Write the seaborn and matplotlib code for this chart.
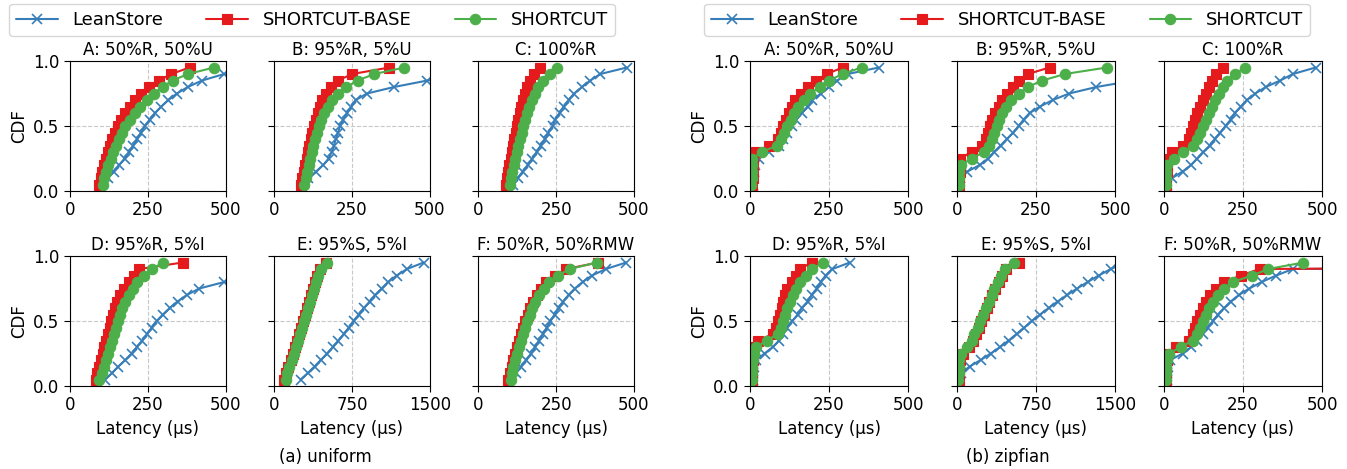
import matplotlib
matplotlib.use("Agg")
import matplotlib.pyplot as plt
import seaborn as sns
import numpy as np
import pandas as pd

nan = np.nan

# CDF levels shared by all series
cdf_levels = [0.05, 0.10, 0.15, 0.20, 0.25, 0.30, 0.35, 0.40, 0.45, 0.50,
              0.55, 0.60, 0.65, 0.70, 0.75, 0.80, 0.85, 0.90, 0.95]

systems = ["LeanStore", "SHORTCUT-BASE", "SHORTCUT"]
panel_titles = ["A: 50%R, 50%U", "B: 95%R, 5%U", "C: 100%R",
                "D: 95%R, 5%I", "E: 95%S, 5%I", "F: 50%R, 50%RMW"]
x_limits = [500, 500, 500, 500, 1500, 500]
x_ticks = [[0, 250, 500], [0, 250, 500], [0, 250, 500],
           [0, 250, 500], [0, 750, 1500], [0, 250, 500]]

# ---- uniform: latency (us) at each CDF level ----
uni_a_lean = [nan, 123, 140, 158, 175, 190, 203, 216, 228, 240, 256, 273, 293, 316, 343, 378, 424, 495, 600]
uni_a_base = [92, 99, 104, 109, 115, 121, 129, 136, 145, 153, 164, 177, 191, 207, 228, 254, 286, 325, 384]
uni_a_sc = [105, 110, 116, 123, 131, 138, 147, 156, 166, 177, 192, 207, 225, 247, 268, 297, 329, 379, 462]

uni_b_lean = [nan, 110, 135, 158, 175, 185, 192, 198, 205, 212, 222, 234, 248, 262, 298, 385, 492, 650, 800]
uni_b_base = [85, 90, 95, 100, 104, 108, 112, 117, 122, 127, 133, 140, 148, 155, 168, 184, 205, 251, 370]
uni_b_sc = [96, 101, 106, 111, 116, 121, 126, 132, 138, 145, 152, 160, 173, 185, 205, 232, 268, 322, 418]

uni_c_lean = [113, 127, 143, 159, 174, 188, 200, 215, 225, 239, 247, 261, 274, 290, 308, 333, 360, 392, 477]
uni_c_base = [88, 92, 96, 100, 104, 108, 112, 116, 120, 124, 128, 133, 138, 144, 150, 158, 167, 178, 198]
uni_c_sc = [102, 106, 110, 115, 119, 124, 129, 134, 139, 145, 150, 157, 164, 173, 182, 193, 209, 229, 254]

uni_d_lean = [112, 135, 155, 178, 198, 215, 232, 248, 262, 278, 298, 320, 345, 375, 415, 495, 580, 700, 850]
uni_d_base = [83, 88, 94, 100, 105, 110, 116, 121, 127, 132, 137, 145, 152, 161, 172, 188, 204, 222, 362]
uni_d_sc = [94, 102, 108, 115, 121, 128, 134, 141, 147, 153, 161, 168, 177, 188, 201, 215, 236, 263, 298]

uni_e_lean = [255, 325, 390, 450, 510, 567, 620, 672, 720, 765, 815, 865, 920, 975, 1035, 1100, 1180, 1280, 1440]
uni_e_base = [96, 115, 135, 158, 182, 200, 220, 240, 260, 280, 298, 315, 335, 355, 375, 395, 415, 440, 495]
uni_e_sc = [110, 128, 148, 170, 192, 210, 230, 250, 270, 290, 308, 325, 345, 365, 385, 405, 425, 450, 505]

uni_f_lean = [nan, 120, 138, 155, 170, 183, 196, 208, 220, 232, 245, 258, 272, 290, 310, 335, 365, 410, 475]
uni_f_base = [97, 102, 107, 113, 119, 126, 132, 138, 145, 151, 159, 166, 175, 188, 201, 218, 247, 282, 386]
uni_f_sc = [104, 108, 112, 118, 124, 130, 136, 143, 150, 157, 165, 173, 182, 195, 210, 228, 255, 295, 380]

# ---- zipfian ----
zip_a_lean = [8, 10, 12, 15, 28, 59, 92, 105, 118, 132, 147, 164, 182, 197, 224, 250, 276, 309, 408]
zip_a_base = [7, 8, 9, 10, 11, 20, 59, 89, 99, 105, 114, 122, 132, 142, 161, 182, 208, 243, 293]
zip_a_sc = [4, 5, 6, 7, 7, 37, 86, 99, 109, 118, 129, 138, 151, 171, 191, 220, 250, 293, 353]

zip_b_lean = [5, 8, 33, 72, 99, 118, 138, 158, 178, 195, 211, 230, 263, 303, 355, 441, 560, 700, 900]
zip_b_base = [7, 7, 8, 8, 9, 46, 79, 92, 99, 105, 112, 121, 132, 141, 158, 178, 197, 224, 293]
zip_b_sc = [5, 6, 7, 13, 46, 86, 101, 112, 118, 126, 134, 142, 155, 171, 195, 224, 270, 342, 474]

zip_c_lean = [8, 26, 59, 86, 105, 125, 145, 161, 178, 195, 211, 224, 243, 263, 289, 322, 368, 408, 480]
zip_c_base = [7, 7, 8, 9, 13, 26, 59, 79, 86, 92, 99, 105, 114, 122, 132, 142, 153, 164, 187]
zip_c_sc = [5, 5, 6, 10, 33, 59, 92, 105, 114, 122, 132, 141, 151, 162, 174, 187, 200, 224, 257]

zip_d_lean = [8, 10, 12, 20, 46, 72, 92, 105, 118, 134, 151, 164, 182, 195, 211, 224, 239, 261, 316]
zip_d_base = [6, 7, 7, 8, 8, 9, 26, 72, 83, 89, 95, 100, 105, 112, 118, 132, 145, 158, 195]
zip_d_sc = [5, 6, 7, 9, 12, 20, 53, 89, 99, 105, 112, 118, 128, 136, 147, 158, 178, 197, 230]

zip_e_lean = [20, 40, 120, 225, 320, 410, 490, 565, 640, 710, 790, 870, 955, 1045, 1140, 1240, 1345, 1460, 1600]
zip_e_base = [18, 20, 22, 25, 59, 110, 150, 178, 205, 229, 257, 284, 308, 336, 363, 395, 426, 466, 584]
zip_e_sc = [14, 16, 18, 22, 39, 99, 138, 166, 197, 221, 249, 276, 300, 328, 355, 387, 415, 454, 541]

zip_f_lean = [8, 10, 12, 20, 59, 86, 105, 122, 138, 155, 171, 191, 211, 237, 270, 309, 355, 408, 4000]
zip_f_base = [6, 7, 7, 8, 8, 37, 79, 92, 99, 105, 114, 122, 132, 145, 164, 191, 243, 303, 4000]
zip_f_sc = [5, 6, 7, 10, 17, 53, 92, 105, 114, 122, 132, 142, 154, 171, 191, 217, 279, 330, 441]

uniform_panels = [
    (uni_a_lean, uni_a_base, uni_a_sc), (uni_b_lean, uni_b_base, uni_b_sc),
    (uni_c_lean, uni_c_base, uni_c_sc), (uni_d_lean, uni_d_base, uni_d_sc),
    (uni_e_lean, uni_e_base, uni_e_sc), (uni_f_lean, uni_f_base, uni_f_sc),
]
zipfian_panels = [
    (zip_a_lean, zip_a_base, zip_a_sc), (zip_b_lean, zip_b_base, zip_b_sc),
    (zip_c_lean, zip_c_base, zip_c_sc), (zip_d_lean, zip_d_base, zip_d_sc),
    (zip_e_lean, zip_e_base, zip_e_sc), (zip_f_lean, zip_f_base, zip_f_sc),
]

colors = ["#377eb8", "#e41a1c", "#4daf4a"]
markers = ["x", "s", "o"]

sns.set_style("ticks")
plt.rcParams["font.family"] = ["DejaVu Sans"]
plt.rcParams["font.size"] = 12
plt.rcParams["axes.edgecolor"] = "black"
plt.rcParams["text.color"] = "black"
plt.rcParams["xtick.color"] = "black"
plt.rcParams["ytick.color"] = "black"
plt.rcParams["axes.labelcolor"] = "black"

W, H = 1347, 469
fig = plt.figure(figsize=(W / 100, H / 100), dpi=100)


def draw_group(left_px, right_px, panels):
    gs = fig.add_gridspec(2, 3, left=left_px / W, right=right_px / W,
                          bottom=1 - 386 / H, top=1 - 61 / H,
                          wspace=0.31, hspace=0.5)
    axes = []
    for i, series in enumerate(panels):
        ax = fig.add_subplot(gs[i // 3, i % 3])
        for name, xs, c, m in zip(systems, series, colors, markers):
            df = pd.DataFrame({"latency": xs, "cdf": cdf_levels}).dropna()
            sns.lineplot(data=df, x="latency", y="cdf", ax=ax, color=c,
                         marker=m, markersize=7.5, markeredgecolor=c,
                         markeredgewidth=1.2 if m == "x" else 0.8,
                         linewidth=1.5, estimator=None, sort=False,
                         label=name, legend=False)
        ax.set_xlim(0, x_limits[i])
        ax.set_ylim(0, 1.0)
        ax.set_xticks(x_ticks[i])
        ax.set_yticks([0, 0.5, 1.0])
        ax.grid(True, linestyle="--", color="#c8c8c8", linewidth=0.8)
        ax.set_axisbelow(True)
        ax.set_title(panel_titles[i], fontsize=12, pad=4)
        ax.tick_params(labelsize=12, length=4)
        if i % 3 == 0:
            ax.set_ylabel("CDF", fontsize=12)
        else:
            ax.set_ylabel("")
            ax.set_yticklabels([])
        if i >= 3:
            ax.set_xlabel("Latency (µs)", fontsize=12)
        else:
            ax.set_xlabel("")
        axes.append(ax)
    return axes


uni_axes = draw_group(70, 634, uniform_panels)
zip_axes = draw_group(750, 1322, zipfian_panels)

for axes, cx in [(uni_axes, 312 / W), (zip_axes, 1007 / W)]:
    handles, labels = axes[0].get_legend_handles_labels()
    fig.legend(handles, labels, loc="upper center", bbox_to_anchor=(cx, 1.0),
               ncol=3, fontsize=13, frameon=True, handlelength=2.3,
               columnspacing=2.4, borderaxespad=0.2, edgecolor="#cccccc")

fig.text(325 / W, 1 - 457 / H, "(a) uniform", ha="center", va="center", fontsize=12)
fig.text(1008 / W, 1 - 457 / H, "(b) zipfian", ha="center", va="center", fontsize=12)

fig.savefig("out.png", dpi=100)
